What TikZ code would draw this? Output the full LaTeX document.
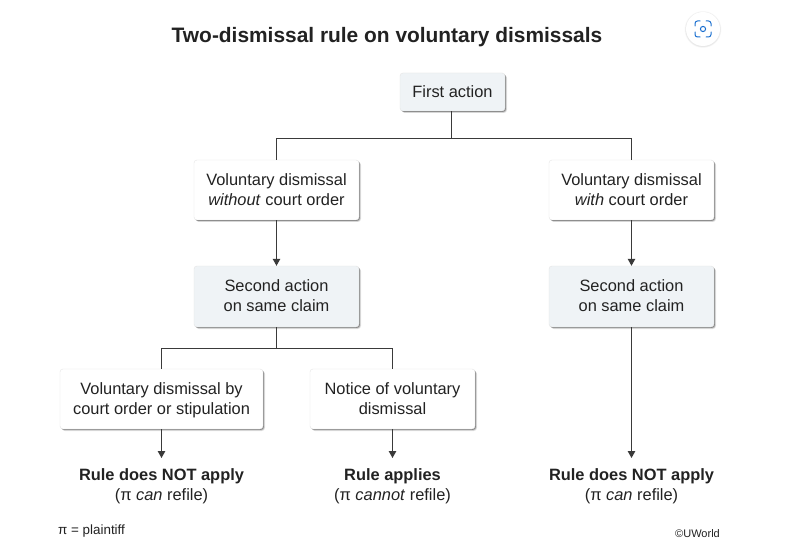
\documentclass[tikz,border=0pt]{standalone}
\usepackage{fontspec}
\setmainfont{Liberation Sans}
\usetikzlibrary{shadows,arrows.meta}
\definecolor{ink}{HTML}{222222}
\definecolor{linec}{HTML}{3A3A3A}
\definecolor{greyfill}{HTML}{EFF3F6}
\definecolor{iconblue}{HTML}{1A6FD0}
\tikzset{
  softshadow/.style={
    general shadow={shadow xshift=2pt,shadow yshift=-2pt,fill=black,opacity=.10,rounded corners=3pt},
    general shadow={shadow xshift=1.4pt,shadow yshift=-1.4pt,fill=black,opacity=.18,rounded corners=3pt},
    general shadow={shadow xshift=.8pt,shadow yshift=-.8pt,fill=black,opacity=.30,rounded corners=3pt}},
  flowbox/.style={rectangle,rounded corners=3pt,softshadow,draw=black!10,line width=.4pt,
    fill=white,text=ink,align=center,inner sep=0pt,text depth=1.5pt,font=\fontsize{16.4}{20}\selectfont},
  greybox/.style={flowbox,fill=greyfill},
  result/.style={text=ink,align=center,inner sep=0pt,anchor=north,font=\fontsize{16.4}{20}\selectfont},
  conn/.style={draw=linec,line width=1.1pt},
  arr/.style={conn,-{Triangle[length=7pt,width=7.5pt]}},
}
\begin{document}
\begin{tikzpicture}[x=1pt,y=-1pt]
\useasboundingbox (0,0) rectangle (786,553);
\fill[white] (0,0) rectangle (786,553);

\node[text=ink,inner sep=0pt,font=\fontsize{20.9}{24}\selectfont\bfseries] (title) at (387,37.5) {Two-dismissal rule on voluntary dismissals};

% lens badge
\foreach \r/\o in {18.5/.02,18/.03,17.5/.04}{\fill[black,opacity=\o] (703,29.5) circle[radius=\r];}
\node[circle,minimum size=34pt,inner sep=0pt,fill=white] (badge) at (703,29) {};
\begin{scope}[shift={(703,29)},draw=iconblue,line width=1pt,line cap=round]
  \draw (-8,-3) -- (-8,-5.5) arc[start angle=180,end angle=270,radius=2.5] -- (-3,-8);
  \draw (3,-8) -- (5.5,-8) arc[start angle=-90,end angle=0,radius=2.5] -- (8,-3);
  \draw (8,3) -- (8,5.5) arc[start angle=0,end angle=90,radius=2.5] -- (3,8);
  \draw (-3,8) -- (-5.5,8) arc[start angle=90,end angle=180,radius=2.5] -- (-8,3);
  \draw (0,0) circle[radius=2.6];
\end{scope}

\node[greybox,text depth=0pt,minimum width=105pt,minimum height=38pt] (first) at (452.5,92) {First action};

\node[flowbox,minimum width=165pt,minimum height=60pt] (without) at (276.5,190) {Voluntary dismissal\\\textit{without} court order};
\node[flowbox,minimum width=165pt,minimum height=60pt] (with) at (631.5,190) {Voluntary dismissal\\\textit{with} court order};
\node[greybox,minimum width=165pt,minimum height=61pt] (secondL) at (276.5,296.5) {Second action\\on same claim};
\node[greybox,minimum width=165pt,minimum height=61pt] (secondR) at (631.5,296.5) {Second action\\on same claim};
\node[flowbox,minimum width=203pt,minimum height=60pt] (byorder) at (161.5,399) {Voluntary dismissal by\\court order or stipulation};
\node[flowbox,minimum width=165pt,minimum height=60pt] (notice) at (392.5,399) {Notice of voluntary\\dismissal};

\node[result] (resA) at (161.5,468) {\textbf{Rule does NOT apply}\\(π \textit{can} refile)};
\node[result] (resB) at (392.5,468) {\textbf{Rule applies}\\(π \textit{cannot} refile)};
\node[result] (resC) at (631.5,468) {\textbf{Rule does NOT apply}\\(π \textit{can} refile)};

\node[text=ink,inner sep=0pt,anchor=west,font=\fontsize{13.4}{15}\selectfont] (key) at (58,531) {π = plaintiff};
\node[text=ink,inner sep=0pt,anchor=east,font=\fontsize{11}{12}\selectfont] (copy) at (720,534) {©UWorld};

% connectors
\coordinate (busA) at (451.5,138.5);
\coordinate (busB) at (276.5,348.5);
\draw[conn] (first.south -| busA) -- (busA);
\draw[conn] (without.north) -- (without.north |- busA) -- (with.north |- busA) -- (with.north);
\draw[arr] (without.south) -- (secondL.north);
\draw[arr] (with.south) -- (secondR.north);
\draw[conn] (secondL.south) -- (busB);
\draw[conn] (byorder.north) -- (byorder.north |- busB) -- (notice.north |- busB) -- (notice.north);
\coordinate (endA) at (161.5,458);
\coordinate (endB) at (392.5,458);
\coordinate (endC) at (631.5,458);
\draw[arr] (byorder.south) -- (endA);
\draw[arr] (notice.south) -- (endB);
\draw[arr] (secondR.south) -- (endC);
\end{tikzpicture}
\end{document}
